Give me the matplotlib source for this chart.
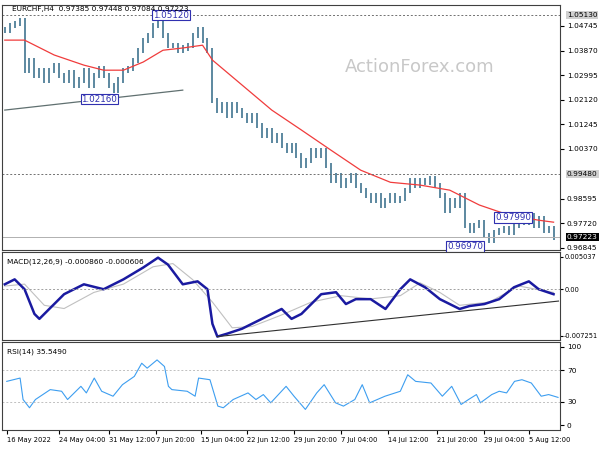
import matplotlib.pyplot as plt
import numpy as np

# closes, one every ~5 px of the original chart
closes = [1.0460, 1.0477, 1.0482, 1.0495, 1.0317, 1.0353, 1.0299, 1.0317, 1.0282, 1.0317,
          1.0335, 1.0299, 1.0282, 1.0310, 1.0264, 1.0282, 1.0317, 1.0264, 1.0299, 1.0324,
          1.0299, 1.0264, 1.0246, 1.0282, 1.0317, 1.0324, 1.0353, 1.0388, 1.0424, 1.0442,
          1.0477, 1.0495, 1.0442, 1.0406, 1.0406, 1.0388, 1.0396, 1.0406, 1.0442, 1.0460,
          1.0424, 1.0388, 1.0210, 1.0175, 1.0193, 1.0157, 1.0193, 1.0175, 1.0157, 1.0139,
          1.0157, 1.0121, 1.0086, 1.0104, 1.0068, 1.0086, 1.0050, 1.0032, 1.0050, 1.0015,
          0.9979, 0.9997, 1.0032, 1.0015, 1.0032, 0.9979, 0.9926, 0.9943, 0.9908, 0.9926,
          0.9943, 0.9908, 0.9890, 0.9872, 0.9854, 0.9872, 0.9837, 0.9854, 0.9872, 0.9854,
          0.9861, 0.9890, 0.9926, 0.9908, 0.9926, 0.9918, 0.9933, 0.9908, 0.9872, 0.9819,
          0.9854, 0.9837, 0.9872, 0.9765, 0.9747, 0.9765, 0.9776, 0.9730, 0.9712, 0.9740,
          0.9747, 0.9754, 0.9740, 0.9765, 0.9783, 0.9776, 0.9801, 0.9765, 0.9790, 0.9747,
          0.9754, 0.9722]
ma_x = [0, 4, 10, 16, 20, 24, 28, 32, 36, 40, 42, 48, 54, 60, 66, 72, 78, 84, 90, 96, 102, 108, 111]
ma_y = [1.0424, 1.0424, 1.0371, 1.0335, 1.0317, 1.0317, 1.0346, 1.0388, 1.0396, 1.0406, 1.0353,
        1.0264, 1.0175, 1.0104, 1.0032, 0.9961, 0.9918, 0.9908, 0.9890, 0.9837, 0.9801, 0.9783, 0.9776]

macd_x = [0, 2, 4, 6, 7, 9, 12, 16, 20, 24, 28, 31, 33, 36, 39, 41, 42, 43, 45, 48, 52, 56, 58,
          60, 64, 67, 69, 71, 74, 77, 80, 82, 85, 88, 92, 94, 97, 100, 103, 106, 108, 111]
macd = [0.00077, 0.00154, 0.0, -0.00384, -0.00461, -0.00307, -0.00077, 0.00077, 0.0, 0.00154,
        0.00338, 0.00492, 0.00384, 0.00077, 0.00123, 0.0, -0.00538, -0.00737, -0.00691, -0.00614,
        -0.00461, -0.00307, -0.00461, -0.00384, -0.00077, -0.00046, -0.0023, -0.00154, -0.00154,
        -0.00307, 0.0, 0.00154, 0.00031, -0.00154, -0.00307, -0.00261, -0.0023, -0.00154, 0.00031,
        0.00123, 0.0, -0.00077]
signal_x = [0, 4, 8, 12, 18, 24, 30, 34, 38, 42, 46, 50, 56, 62, 68, 74, 80, 84, 88, 92, 98, 104, 111]
signal = [0.0005, 0.0008, -0.0025, -0.0030, -0.0005, 0.0008, 0.0035, 0.0040, 0.0015, -0.0020,
          -0.0060, -0.0058, -0.0040, -0.0020, -0.0010, -0.0015, -0.0010, 0.0010, -0.0005, -0.0025,
          -0.0020, 0.0005, -0.0005]

rsi_x = [0.4, 3.1, 3.7, 5, 6.2, 9.2, 11.5, 12.7, 15.4, 16.5, 18.1, 19.6, 21.9, 23.8, 26.2, 27.7,
         28.8, 30.8, 32.3, 33.1, 33.8, 36.9, 38.5, 39.2, 41.5, 43.1, 44.2, 46.2, 47.7, 49.2, 50.8,
         52.3, 53.8, 56.9, 58.5, 60.8, 63.1, 64.6, 66.9, 68.5, 70.8, 72.3, 73.8, 76.9, 80, 81.5,
         83.1, 86.2, 88.5, 90.4, 92.3, 93.8, 95.4, 96.2, 98.5, 100, 101.5, 103.1, 104.6, 106.5,
         108.5, 110, 111.9]
rsi = [55.9, 60.1, 32.8, 22.3, 32.8, 45.4, 43.3, 32.8, 49.6, 41.2, 60.1, 43.3, 37.0, 51.7, 62.2,
       79.0, 72.7, 83.2, 74.8, 49.6, 45.4, 43.3, 37.0, 60.1, 58.0, 24.4, 22.3, 32.8, 37.0, 41.2,
       32.8, 39.1, 28.6, 49.6, 37.0, 20.2, 41.2, 51.7, 28.6, 24.4, 32.8, 51.7, 28.6, 37.0, 43.3,
       64.3, 55.9, 53.8, 37.0, 49.6, 26.5, 32.8, 39.1, 28.6, 39.1, 43.3, 41.2, 55.9, 58.0, 53.8,
       37.0, 39.1, 35.5]

tick_x = [0.4, 11, 21, 30.6, 39.6, 49, 58.6, 68, 77.6, 87.4, 97, 106]
tick_labels = ["16 May 2022", "24 May 04:00", "31 May 12:00", "7 Jun 20:00", "15 Jun 04:00",
               "22 Jun 12:00", "29 Jun 20:00", "7 Jul 04:00", "14 Jul 12:00", "21 Jul 20:00",
               "29 Jul 04:00", "5 Aug 12:00"]

bar_c = "#4f7f99"
fs = 5.3
fig = plt.figure(figsize=(6, 4.5), dpi=100)
W = 560 / 600
ax1 = fig.add_axes([0.003, 1 - 250 / 450, W - 0.003, 245 / 450])
ax2 = fig.add_axes([0.003, 1 - 340 / 450, W - 0.003, 88 / 450])
ax3 = fig.add_axes([0.003, 1 - 430 / 450, W - 0.003, 88 / 450])
xlim = (-0.6, 112.3)

# price bars
c = np.array(closes)
o = np.concatenate([[c[0]], c[:-1]])
hi = np.maximum(o, c) + 0.0009
lo = np.minimum(o, c) - 0.0009
idx = np.arange(len(c))
ax1.vlines(idx, lo, hi, color=bar_c, lw=1.3)
ax1.plot(ma_x, ma_y, color="#f03c3c", lw=0.9)
ax1.plot([0, 36], [1.0175, 1.0246], color="#607070", lw=0.9)
ax1.axhline(1.0513, color="#707070", ls=(0, (2, 2)), lw=0.7)
ax1.axhline(0.9948, color="#707070", ls=(0, (2, 2)), lw=0.7)
ax1.axhline(0.97223, color="#b0b0b0", lw=0.7)
ax1.set_ylim(0.9677, 1.0549)
box = dict(boxstyle="square,pad=0.1", fc="white", ec="#3030b0", lw=0.8)
for x, y, t in [(30, 1.0513, "1.05120"), (15.5, 1.0214, "1.02160"),
                (99.2, 0.9793, "0.97990"), (89.5, 0.9690, "0.96970")]:
    ax1.text(x, y, t, fontsize=6.3, color="#3030b0", ha="left", va="center", bbox=box)
ax1.text(1.5, 1.0535, "EURCHF,H4  0.97385 0.97448 0.97084 0.97223", fontsize=fs, va="center")
ax1.text(84, 1.0330, "ActionForex.com", fontsize=13, color="#c8c8c8", ha="center", va="center")
ax1.set_yticks([1.04745, 1.0387, 1.02995, 1.0212, 1.01245, 1.0037, 0.98595, 0.9772, 0.96845])

# MACD
ax2.plot(signal_x, signal, color="#c0c0c0", lw=0.8)
ax2.plot(macd_x, macd, color="#1a1aa0", lw=1.8)
ax2.axhline(0, color="#a0a0a0", ls=(0, (2, 2)), lw=0.7)
ax2.plot([43, 112], [-0.00737, -0.00184], color="#303030", lw=0.8)
ax2.set_ylim(-0.0079, 0.0058)
ax2.set_yticks([0.005037, 0.0, -0.007251])
ax2.set_yticklabels(["0.005037", "0.00", "-0.007251"])
ax2.text(0.01, 0.93, "MACD(12,26,9) -0.000860 -0.000606", transform=ax2.transAxes, fontsize=fs, va="top")

# RSI
ax3.plot(rsi_x, rsi, color="#3d9ef0", lw=0.8)
for lv in (70, 30):
    ax3.axhline(lv, color="#c0c0c0", ls=(0, (2, 2)), lw=0.7)
ax3.set_ylim(-6, 106)
ax3.set_yticks([100, 70, 30, 0])
ax3.text(0.01, 0.93, "RSI(14) 35.5490", transform=ax3.transAxes, fontsize=fs, va="top")

for ax in (ax1, ax2, ax3):
    ax.set_xlim(*xlim)
    ax.yaxis.tick_right()
    ax.tick_params(axis="y", labelsize=fs, length=3, pad=2)
    ax.set_xticks([])
    for s in ax.spines.values():
        s.set_linewidth(0.8)
        s.set_color("#404040")
ax2.tick_params(axis="y", labelsize=4.8, length=2, pad=1)
ax3.set_xticks(tick_x)
ax3.set_xticklabels(tick_labels, ha="left", fontsize=4.9)
ax3.tick_params(axis="x", length=3, pad=2)

# right-edge price boxes
for y, t, fc, tc in [(1.0513, "1.05130", "#d0d0d0", "black"), (0.9948, "0.99480", "#d0d0d0", "black"),
                     (0.97223, "0.97223", "black", "white")]:
    ax1.text(1.012, y, t, transform=ax1.get_yaxis_transform(), fontsize=fs, va="center", color=tc,
             bbox=dict(boxstyle="square,pad=0.15", fc=fc, ec="none"))

fig.savefig("out.png", dpi=100)
